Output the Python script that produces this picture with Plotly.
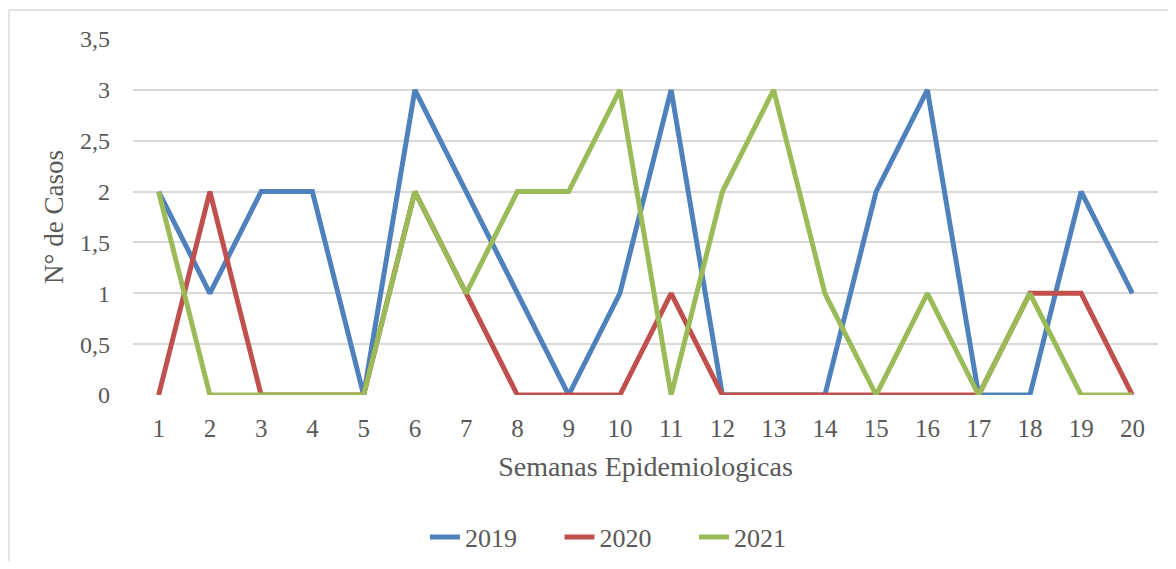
import plotly.graph_objects as go

weeks = [str(i) for i in range(1, 21)]
cases_2019 = [2, 1, 2, 2, 0, 3, 2, 1, 0, 1, 3, 0, 0, 0, 2, 3, 0, 0, 2, 1]
cases_2020 = [0, 2, 0, 0, 0, 2, 1, 0, 0, 0, 1, 0, 0, 0, 0, 0, 0, 1, 1, 0]
cases_2021 = [2, 0, 0, 0, 0, 2, 1, 2, 2, 3, 0, 2, 3, 1, 0, 1, 0, 1, 0, 0]
y_ticks = [0, 0.5, 1, 1.5, 2, 2.5, 3, 3.5]
y_tick_labels = ["0", "0,5", "1", "1,5", "2", "2,5", "3", "3,5"]

series = [("2019", cases_2019, "#4F81BD"),
          ("2020", cases_2020, "#C0504D"),
          ("2021", cases_2021, "#9BBB59")]

FONT = "Liberation Serif"
TXT = "#595959"

fig = go.Figure()
for name, vals, col in series:
    fig.add_trace(go.Scatter(x=weeks, y=vals, name=name, mode="lines",
                             line=dict(color=col, width=5)))

# page has an 8px body margin; figure coordinates are page - 8
OFF = 8
W, H = 1176 - 2 * OFF, 569 - 2 * OFF
L, R, T, B = 133 - OFF, 10, 39 - OFF, H - (395 - OFF)
pw, ph = W - L - R, H - T - B

def px_x(p):
    return (p - OFF - L) / pw

def px_y(p):
    return (H - B - (p - OFF)) / ph

fig.update_layout(
    width=W, height=H,
    margin=dict(l=L, r=R, t=T, b=B, autoexpand=False),
    paper_bgcolor="white", plot_bgcolor="white",
    font=dict(family=FONT, color=TXT, size=25),
    showlegend=True,
    legend=dict(orientation="h", x=px_x(627), xanchor="center",
                y=px_y(537), yanchor="middle",
                font=dict(family=FONT, size=26, color=TXT),
                entrywidth=89.5, entrywidthmode="pixels",
                bgcolor="rgba(0,0,0,0)"),
    xaxis=dict(type="category", range=[-0.5, 19.5], showgrid=False,
               showline=False, zeroline=False, ticks="",
               ticklabelstandoff=16,
               tickfont=dict(family=FONT, size=25, color=TXT),
               title=dict(text="Semanas Epidemiologicas", standoff=15,
                          font=dict(family=FONT, size=28, color=TXT))),
    yaxis=dict(range=[0, 3.5], tickvals=y_ticks, ticktext=y_tick_labels,
               showgrid=True, gridcolor="#D9D9D9", gridwidth=1.5,
               zeroline=False, showline=False, ticks="",
               ticklabelstandoff=22,
               tickfont=dict(family=FONT, size=24, color=TXT),
               title=dict(text="N° de Casos", standoff=8,
                          font=dict(family=FONT, size=27, color=TXT))),
    shapes=[
        dict(type="line", xref="paper", yref="paper",
             x0=px_x(9), x1=px_x(1180), y0=px_y(10), y1=px_y(10),
             line=dict(color="#D9D9D9", width=1.5)),
        dict(type="line", xref="paper", yref="paper",
             x0=px_x(9), x1=px_x(9), y0=px_y(10), y1=px_y(575),
             line=dict(color="#D9D9D9", width=1.5)),
    ],
)

fig.write_html("out.html")
